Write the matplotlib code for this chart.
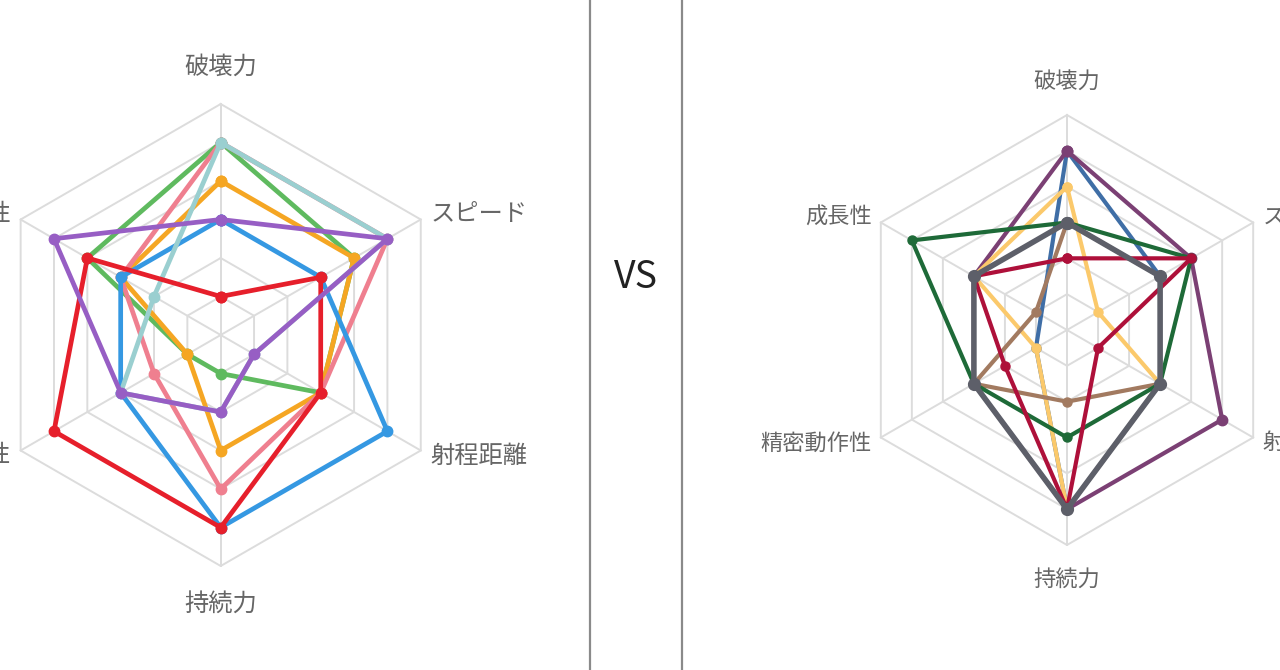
import numpy as np
import matplotlib
matplotlib.use('agg')
import matplotlib.pyplot as plt
from matplotlib.lines import Line2D

plt.rcParams['font.family'] = ['Noto Sans CJK JP', 'DejaVu Sans']

# 軸ラベル（時計回り、上から）
labels = ['破壊力', 'スピード', '射程距離', '持続力', '精密動作性', '成長性']

# 左チャート (A=5 ... E=1)
left_red = [1, 3, 3, 5, 5, 4]
left_blue = [3, 3, 5, 5, 3, 3]
left_orange = [4, 4, 3, 3, 1, 3]
left_green = [5, 4, 3, 1, 1, 4]
left_pink = [5, 5, 3, 4, 2, 3]
left_teal = [5, 5, 1, 2, 3, 2]
left_purple = [3, 5, 1, 2, 3, 5]

# 右チャート (None = 値なし)
right_blue = [5, 3, 3, 5, 1, None]
right_purple = [5, 4, 5, 5, 3, 3]
right_yellow = [4, 1, 3, 5, 1, 3]
right_brown = [3, 3, 3, 2, 3, 1]
right_green = [3, 4, 3, 3, 3, 5]
right_crimson = [2, 4, 1, 5, 2, 3]
right_gray = [3, 3, 3, 5, 3, 3]

# 描画順（下から上）
left_series = [
    (left_green, '#5fba5f'),
    (left_orange, '#f5a623'),
    (left_pink, '#ef7f8f'),
    (left_blue, '#3598e2'),
    (left_teal, '#9acfd0'),
    (left_red, '#e61f2b'),
    (left_purple, '#975ec4'),
]
right_series = [
    (right_blue, '#3f6ea6', 3.0, 6.5),
    (right_purple, '#7b4074', 3.0, 7.5),
    (right_yellow, '#fbc96b', 3.0, 6.5),
    (right_brown, '#a27a60', 3.0, 6.5),
    (right_green, '#1e6a38', 3.0, 6.5),
    (right_crimson, '#ae103a', 3.0, 6.5),
    (right_gray, '#5d5f69', 4.0, 8.5),
]

MAXV = 6
angles = np.deg2rad(np.arange(len(labels)) * 60)


def setup_radar(ax):
    ax.set_theta_zero_location('N')
    ax.set_theta_direction(-1)
    ax.axis('off')
    # 六角形のグリッド
    for lv in range(1, MAXV + 1):
        ax.plot(np.append(angles, angles[0]), [lv] * (len(angles) + 1),
                color='#dcdcdc', lw=1.4, clip_on=False, zorder=1)
    for a in angles:
        ax.plot([a, a], [0, MAXV], color='#dcdcdc', lw=1.4, clip_on=False, zorder=1)


def draw_series(ax, values, color, lw, ms, z):
    th = [a for a, v in zip(angles, values) if v is not None]
    rr = [v for v in values if v is not None]
    th.append(th[0])
    rr.append(rr[0])
    ax.plot(th, rr, color=color, lw=lw, marker='o', ms=ms, clip_on=False,
            solid_joinstyle='round', zorder=z)


def draw_labels(ax, fs, r_side, r_tb):
    spec = [('center', r_tb), ('left', r_side), ('left', r_side),
            ('center', r_tb), ('right', r_side), ('right', r_side)]
    for a, lab, (ha, r) in zip(angles, labels, spec):
        ax.text(a, r, lab, ha=ha, va='center', fontsize=fs, color='#666666')


fig = plt.figure(figsize=(12.8, 6.7), dpi=100)
fig.patch.set_facecolor('white')

# 左
ax1 = fig.add_axes([(220.7 - 231) / 1280, (335 - 231) / 670, 462 / 1280, 462 / 670],
                   projection='polar')
setup_radar(ax1)
for i, (vals, col) in enumerate(left_series):
    draw_series(ax1, vals, col, 3.4, 7.5, 3 + i)
draw_labels(ax1, 17.5, 6.3, 6.97)
ax1.set_ylim(0, MAXV)

# 右
ax2 = fig.add_axes([(1067 - 215) / 1280, (340 - 215) / 670, 430 / 1280, 430 / 670],
                   projection='polar')
setup_radar(ax2)
for i, (vals, col, lw, ms) in enumerate(right_series):
    draw_series(ax2, vals, col, lw, ms, 3 + i)
draw_labels(ax2, 16, 6.3, 6.95)
ax2.set_ylim(0, MAXV)

# 区切り線と VS
for xpix in (590, 682):
    fig.add_artist(Line2D([xpix / 1280] * 2, [0, 1], transform=fig.transFigure,
                          color='#8a8a8a', lw=1.6))
fig.text(636 / 1280, 1 - 278 / 670, 'VS', ha='center', va='center',
         fontsize=27, color='#222222')

fig.savefig('out.png', dpi=100)
plt.close(fig)
